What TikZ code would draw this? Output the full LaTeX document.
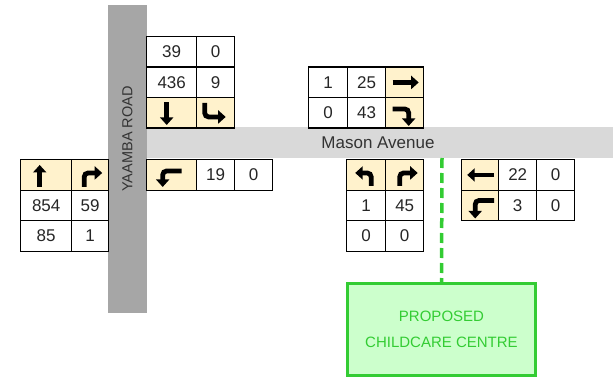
\documentclass[tikz,border=0pt]{standalone}
\usepackage{fontspec}
\setmainfont{Liberation Sans}
\usepackage{tikz}
\usetikzlibrary{arrows.meta}

\definecolor{roadgrey}{HTML}{A6A6A6}
\definecolor{avegrey}{HTML}{D9D9D9}
\definecolor{movefill}{HTML}{FFF2CC}
\definecolor{sitegreen}{HTML}{33CC33}
\definecolor{sitefill}{HTML}{CCFFCC}
\definecolor{inkgrey}{HTML}{262626}

\tikzset{
  cell/.style={draw=black, line width=1.4pt, minimum height=30.5pt, inner sep=0pt, anchor=north west, text=inkgrey, font=\fontsize{17}{20}\selectfont},
  movecell/.style={cell, fill=movefill},
  lanearrow/.style={line width=4.8pt, draw=black, -{Triangle[width=13pt,length=7.5pt]}, rounded corners=4pt},
  roadname/.style={text=black!80, inner sep=0pt},
  site/.style={draw=sitegreen, line width=3pt, fill=sitefill, minimum width=188pt, minimum height=91.5pt, align=center, text=sitegreen, font=\fontsize{15}{26}\selectfont},
  accessline/.style={draw=sitegreen, line width=3.5pt, dash pattern=on 10pt off 5pt},
}

\begin{document}
\begin{tikzpicture}[x=1pt, y=-1pt]
    \useasboundingbox (0,0) rectangle (613,377);

    % roads
    \fill[roadgrey] (108,5) rectangle (147,313);
    \fill[avegrey] (147,127) rectangle (613,158);
    \node[roadname, rotate=90, font=\fontsize{14.5}{17}\selectfont] (yaamba) at (127.5,139) {YAAMBA ROAD};
    \node[roadname, font=\fontsize{17}{20}\selectfont] (mason) at (378,143) {Mason Avenue};

    % Yaamba Road, north side
    \begin{scope}[shift={(146,36)}]
    \node[cell, minimum width=50pt] (yn11) at (0,0) {39};
    \node[cell, minimum width=38pt] (yn12) at (50,0) {0};
    \node[cell, minimum width=50pt] (yn21) at (0,30.5) {436};
    \node[cell, minimum width=38pt] (yn22) at (50,30.5) {9};
    \node[movecell, minimum width=50pt] (yn31) at (0,61) {};
    \node[movecell, minimum width=38pt] (yn32) at (50,61) {};
    \end{scope}

    % Yaamba Road, south side
    \begin{scope}[shift={(20,159)}]
    \node[movecell, minimum width=51pt] (ys11) at (0,0) {};
    \node[movecell, minimum width=37pt] (ys12) at (51,0) {};
    \node[cell, minimum width=51pt] (ys21) at (0,30.5) {854};
    \node[cell, minimum width=37pt] (ys22) at (51,30.5) {59};
    \node[cell, minimum width=51pt] (ys31) at (0,61) {85};
    \node[cell, minimum width=37pt] (ys32) at (51,61) {1};
    \end{scope}

    % Mason Avenue at Yaamba Road
    \begin{scope}[shift={(146,159)}]
    \node[movecell, minimum width=50pt] (ye11) at (0,0) {};
    \node[cell, minimum width=38pt] (ye12) at (50,0) {19};
    \node[cell, minimum width=38pt] (ye13) at (88,0) {0};
    \end{scope}

    % Mason Avenue, west of site
    \begin{scope}[shift={(308,66.5)}]
    \node[cell, minimum width=39pt] (mw11) at (0,0) {1};
    \node[cell, minimum width=38pt] (mw12) at (39,0) {25};
    \node[movecell, minimum width=38pt] (mw13) at (77,0) {};
    \node[cell, minimum width=39pt] (mw21) at (0,30.5) {0};
    \node[cell, minimum width=38pt] (mw22) at (39,30.5) {43};
    \node[movecell, minimum width=38pt] (mw23) at (77,30.5) {};
    \end{scope}

    % site side
    \begin{scope}[shift={(346,159)}]
    \node[movecell, minimum width=39pt] (mn11) at (0,0) {};
    \node[movecell, minimum width=38pt] (mn12) at (39,0) {};
    \node[cell, minimum width=39pt] (mn21) at (0,30.5) {1};
    \node[cell, minimum width=38pt] (mn22) at (39,30.5) {45};
    \node[cell, minimum width=39pt] (mn31) at (0,61) {0};
    \node[cell, minimum width=38pt] (mn32) at (39,61) {0};
    \end{scope}

    % Mason Avenue, east of site
    \begin{scope}[shift={(461,159)}]
    \node[movecell, minimum width=37pt] (me11) at (0,0) {};
    \node[cell, minimum width=38pt] (me12) at (37,0) {22};
    \node[cell, minimum width=38pt] (me13) at (75,0) {0};
    \node[movecell, minimum width=37pt] (me21) at (0,30.5) {};
    \node[cell, minimum width=38pt] (me22) at (37,30.5) {3};
    \node[cell, minimum width=38pt] (me23) at (75,30.5) {0};
    \end{scope}

    % turning movements
    \draw[lanearrow, shift={(yn31.center)}] (-5,-10.5) -- (-5,12);
    \draw[lanearrow, shift={(yn32.center)}] (-11,-10) -- (-11,4) -- (10,4);
    \draw[lanearrow, shift={(ys11.center)}] (-6.5,12) -- (-6.5,-10);
    \draw[lanearrow, shift={(ys12.center)}] (-6,12) -- (-6,-2) -- (12,-2);
    \draw[lanearrow, shift={(ye11.center)}] (10,-4) -- (-9,-4) -- (-9,12);
    \draw[lanearrow, shift={(mw13.center)}] (-12,0) -- (14,0);
    \draw[lanearrow, shift={(mw23.center)}] (-12,-4) -- (4,-4) -- (4,13);
    \draw[lanearrow, shift={(mn11.center)}] (5,11) -- (5,-2) -- (-11,-2);
    \draw[lanearrow, shift={(mn12.center)}] (-5,11) -- (-5,-2) -- (13,-2);
    \draw[lanearrow, shift={(me11.center)}] (14,0) -- (-13,0);
    \draw[lanearrow, shift={(me21.center)}] (14,-5) -- (-5,-5) -- (-5,13);

    % proposed site
    \coordinate (gate) at (442,158);
    \node[site] (centre) at (441.5,329.25) {PROPOSED\\CHILDCARE CENTRE};
    \draw[accessline] (gate) -- (centre.north);
\end{tikzpicture}
\end{document}
